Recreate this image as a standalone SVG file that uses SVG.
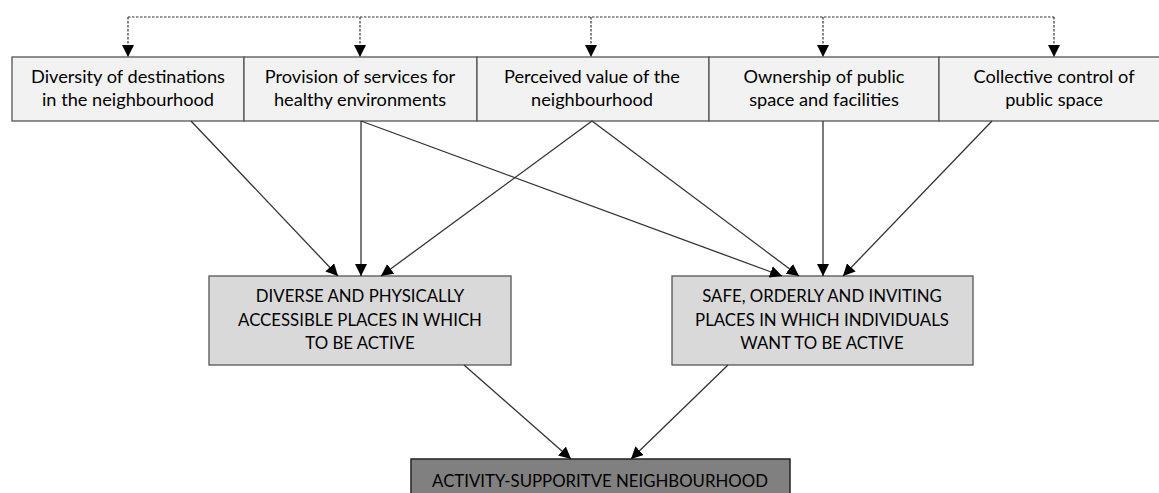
<svg xmlns="http://www.w3.org/2000/svg" width="1159" height="493" viewBox="0 0 1159 493">
  <defs>
    <marker id="arrow" viewBox="0 0 10 10" refX="10" refY="5" markerWidth="12" markerHeight="12" markerUnits="userSpaceOnUse" orient="auto">
      <path d="M0,0 L10,5 L0,10 z" fill="#000"/>
    </marker>
    <style>
      .top rect { fill: #f2f2f2; stroke: #555; stroke-width: 1.3; }
      .mid rect { fill: #d9d9d9; stroke: #555; stroke-width: 1.3; }
      .bot rect { fill: #808080; stroke: #222; stroke-width: 1.5; }
      text { font-family: "Lato", "Liberation Sans", sans-serif; fill: #000; text-anchor: middle; }
      .t { font-size: 18.2px; }
      .m { font-size: 16.8px; }
      .link { stroke: #333; stroke-width: 1.3; fill: none; marker-end: url(#arrow); }
      .dash { stroke: #333; stroke-width: 1.2; fill: none; stroke-dasharray: 2.5 1.5; }
      .drop { stroke: #333; stroke-width: 1.2; fill: none; stroke-dasharray: 2.5 1.5; marker-end: url(#arrow); }
    </style>
  </defs>

  <rect width="1159" height="493" fill="#ffffff"/>

  <!-- top row of neighbourhood factors -->
  <g id="n-diversity" class="top">
    <rect x="12" y="57" width="232" height="64"/>
    <text class="t" x="128" y="83">Diversity of destinations</text>
    <text class="t" x="128" y="106">in the neighbourhood</text>
  </g>
  <g id="n-services" class="top">
    <rect x="244" y="57" width="233" height="64"/>
    <text class="t" x="360" y="83">Provision of services for</text>
    <text class="t" x="360" y="106">healthy environments</text>
  </g>
  <g id="n-value" class="top">
    <rect x="477" y="57" width="232" height="64"/>
    <text class="t" x="592" y="83">Perceived value of the</text>
    <text class="t" x="592" y="106">neighbourhood</text>
  </g>
  <g id="n-ownership" class="top">
    <rect x="709" y="57" width="230" height="64"/>
    <text class="t" x="824" y="83">Ownership of public</text>
    <text class="t" x="824" y="106">space and facilities</text>
  </g>
  <g id="n-control" class="top">
    <rect x="939" y="57" width="230" height="64"/>
    <text class="t" x="1054" y="83">Collective control of</text>
    <text class="t" x="1054" y="106">public space</text>
  </g>

  <!-- intermediate outcomes -->
  <g id="n-accessible" class="mid">
    <rect x="209" y="276" width="302" height="89"/>
    <text class="m" x="360" y="302">DIVERSE AND PHYSICALLY</text>
    <text class="m" x="360" y="326">ACCESSIBLE PLACES IN WHICH</text>
    <text class="m" x="360" y="349">TO BE ACTIVE</text>
  </g>
  <g id="n-safe" class="mid">
    <rect x="672" y="276" width="301" height="89"/>
    <text class="m" x="822" y="302">SAFE, ORDERLY AND INVITING</text>
    <text class="m" x="822" y="326">PLACES IN WHICH INDIVIDUALS</text>
    <text class="m" x="822" y="349">WANT TO BE ACTIVE</text>
  </g>

  <!-- final outcome -->
  <g id="n-outcome" class="bot">
    <rect x="411" y="459" width="379" height="50"/>
    <text class="m" x="600" y="487">ACTIVITY-SUPPORITVE NEIGHBOURHOOD</text>
  </g>

  <!-- connectors -->
  <g id="connectors">
    <path class="dash" d="M128,17 H1054"/>
    <path class="drop" d="M128,17 V57"/>
    <path class="drop" d="M360,17 V57"/>
    <path class="drop" d="M591,17 V57"/>
    <path class="drop" d="M823,17 V57"/>
    <path class="drop" d="M1054,17 V57"/>

    <path class="link" d="M191,121 L338,276"/>
    <path class="link" d="M361,121 L361,276"/>
    <path class="link" d="M592,121 L381,276"/>
    <path class="link" d="M361,121 L782,276"/>
    <path class="link" d="M592,121 L799,276"/>
    <path class="link" d="M823,121 L823,276"/>
    <path class="link" d="M992,121 L843,276"/>

    <path class="link" d="M464,365 L571,459"/>
    <path class="link" d="M728,365 L631,459"/>
  </g>
</svg>
